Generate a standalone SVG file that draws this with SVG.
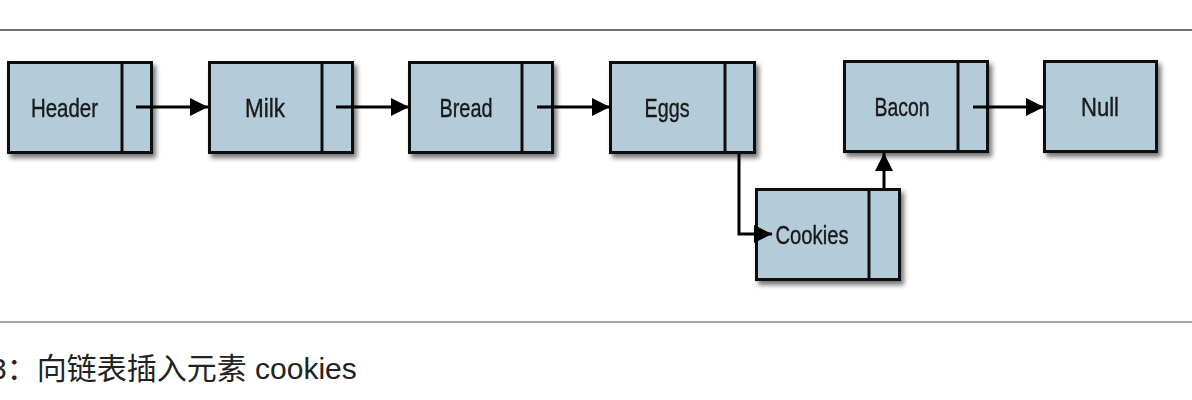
<svg xmlns="http://www.w3.org/2000/svg" width="1192" height="400" viewBox="0 0 1192 400">
<style>
.box{fill:#b4ccd9;stroke:#111;stroke-width:3}
.div{stroke:#111;stroke-width:3}
.lbl{font-family:"Liberation Sans",sans-serif;font-size:26px;fill:#1a1a1a;stroke:#1a1a1a;stroke-width:0.4;text-anchor:middle}
.con{fill:none;stroke:#000;stroke-width:3}
.cap{font-family:"Liberation Sans","Noto Sans CJK SC",sans-serif;font-size:30px;fill:#222}
</style>
<defs>
<filter id="sh" x="-10%" y="-10%" width="130%" height="140%">
<feGaussianBlur in="SourceAlpha" stdDeviation="2.5"/>
<feOffset dx="3" dy="4" result="b"/>
<feComponentTransfer><feFuncA type="linear" slope="0.55"/></feComponentTransfer>
<feMerge><feMergeNode/><feMergeNode in="SourceGraphic"/></feMerge>
</filter>
<marker id="ah" markerWidth="20" markerHeight="20" viewBox="0 0 20 20" refX="19" refY="10" orient="auto" markerUnits="userSpaceOnUse">
<path d="M1,1 L19,10 L1,19 Z" fill="#000"/>
</marker>
</defs>
<rect width="1192" height="400" fill="#fff"/>
<line x1="0" y1="30" x2="1192" y2="30" stroke="#444" stroke-width="1.5"/>
<line x1="0" y1="322" x2="1192" y2="322" stroke="#888" stroke-width="1.5"/>

<g id="header" filter="url(#sh)">
<rect class="box" x="8.5" y="62.5" width="143" height="90"/>
<line class="div" x1="122" y1="62" x2="122" y2="153"/>
<text class="lbl" x="64.5" y="117" textLength="67" lengthAdjust="spacingAndGlyphs">Header</text>
</g>
<g id="milk" filter="url(#sh)">
<rect class="box" x="209.5" y="62.5" width="143" height="90"/>
<line class="div" x1="322" y1="62" x2="322" y2="153"/>
<text class="lbl" x="265" y="117" textLength="40" lengthAdjust="spacingAndGlyphs">Milk</text>
</g>
<g id="bread" filter="url(#sh)">
<rect class="box" x="409.5" y="62.5" width="143" height="90"/>
<line class="div" x1="522" y1="62" x2="522" y2="153"/>
<text class="lbl" x="466" y="117" textLength="53" lengthAdjust="spacingAndGlyphs">Bread</text>
</g>
<g id="eggs" filter="url(#sh)">
<rect class="box" x="610.5" y="62.5" width="144" height="90"/>
<line class="div" x1="725" y1="62" x2="725" y2="153"/>
<text class="lbl" x="667" y="117" textLength="45" lengthAdjust="spacingAndGlyphs">Eggs</text>
</g>
<g id="bacon" filter="url(#sh)">
<rect class="box" x="844.5" y="61.5" width="143" height="90"/>
<line class="div" x1="958" y1="61" x2="958" y2="152"/>
<text class="lbl" x="902" y="116" textLength="55" lengthAdjust="spacingAndGlyphs">Bacon</text>
</g>
<g id="null" filter="url(#sh)">
<rect class="box" x="1044.5" y="61.5" width="112" height="90"/>
<text class="lbl" x="1100" y="116" textLength="38" lengthAdjust="spacingAndGlyphs">Null</text>
</g>
<g id="cookies" filter="url(#sh)">
<rect class="box" x="756.5" y="189.5" width="143" height="90"/>
<line class="div" x1="869" y1="189" x2="869" y2="280"/>
<text class="lbl" x="812" y="244" textLength="73" lengthAdjust="spacingAndGlyphs">Cookies</text>
</g>

<g id="connectors">
<path class="con" d="M136,107 H208" marker-end="url(#ah)"/>
<path class="con" d="M336,107 H409" marker-end="url(#ah)"/>
<path class="con" d="M537,107 H610" marker-end="url(#ah)"/>
<path class="con" d="M739,154 V234 H772" marker-end="url(#ah)"/>
<path class="con" d="M884,188 V153" marker-end="url(#ah)"/>
<path class="con" d="M973,107 H1044" marker-end="url(#ah)"/>
</g>

<text class="cap" x="-10" y="379">3：向链表插入元素 cookies</text>
</svg>
